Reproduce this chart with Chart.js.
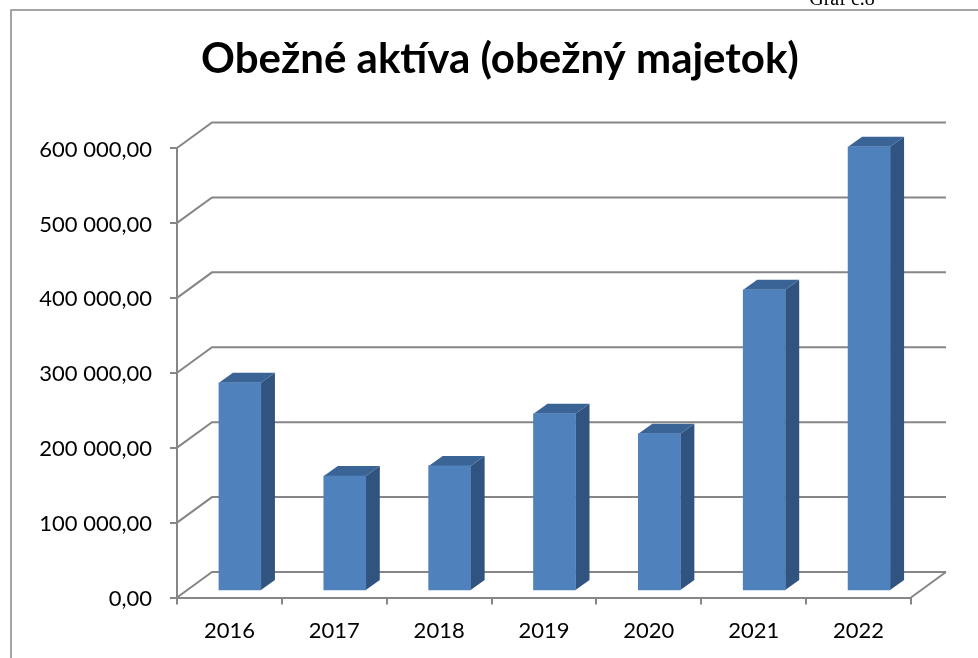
<!DOCTYPE html>
<html lang="sk">
<head>
<meta charset="utf-8">
<style>html,body{margin:0;padding:0;background:#fff;overflow:hidden}#w{width:978px;height:658px;position:relative}</style>
<script src="https://cdn.jsdelivr.net/npm/chart.js@4/dist/chart.umd.min.js"></script>
</head>
<body>
<div id="w"><canvas id="c" width="978" height="658"></canvas></div>
<script>
const categories = ['2016','2017','2018','2019','2020','2021','2022'];
const seriesValues = [278000,153500,167000,236500,210000,402000,593000];
const yTickLabels = ['0,00','100 000,00','200 000,00','300 000,00','400 000,00','500 000,00','600 000,00'];
const titleText = 'Obežné aktíva (obežný majetok)';
const captionText = 'Graf č.8';

const GRID = '#868686', FRONT = '#4F81BD', SIDE = '#31537F', TOP = '#3B6496';
const WALL = {dx:35, dy:-25.5}, BAR = {dx:10.5, dy:-6.5}, DEPTH = {dx:14, dy:-10};

const scene = {
  id:'scene',
  afterLayout(chart){ const t = chart.titleBlock; if(t){ t.left = 22; t.right = 978; } },
  beforeDraw(chart){
    const {ctx} = chart;
    ctx.save();
    ctx.strokeStyle = GRID; ctx.lineWidth = 1.5;
    ctx.beginPath(); ctx.moveTo(11,658); ctx.lineTo(11,10); ctx.lineTo(978,10); ctx.stroke();
    ctx.fillStyle = '#000'; ctx.font = '20px "Liberation Serif"'; ctx.textAlign='center'; ctx.textBaseline='alphabetic';
    ctx.fillText(captionText, 842, 5);
    ctx.restore();
  },
  beforeDatasetsDraw(chart){
    const {ctx, chartArea:a, scales:{y}} = chart;
    ctx.save();
    ctx.strokeStyle = GRID; ctx.lineWidth = 2;
    y.ticks.forEach(t=>{
      const p = y.getPixelForValue(t.value);
      ctx.beginPath(); ctx.moveTo(a.left,p); ctx.lineTo(a.left+WALL.dx,p+WALL.dy); ctx.lineTo(a.right+WALL.dx,p+WALL.dy); ctx.stroke();
    });
    ctx.beginPath(); ctx.moveTo(a.right,a.bottom); ctx.lineTo(a.right+WALL.dx,a.bottom+WALL.dy); ctx.stroke();
    ctx.restore();
  },
  beforeDatasetDraw(chart,args){
    const {ctx} = chart;
    ctx.save();
    ctx.translate(BAR.dx,BAR.dy);
    args.meta.data.forEach(b=>{
      const r = b.x+b.width/2, l = b.x-b.width/2;
      ctx.fillStyle = SIDE;
      ctx.beginPath(); ctx.moveTo(r,b.y); ctx.lineTo(r+DEPTH.dx,b.y+DEPTH.dy); ctx.lineTo(r+DEPTH.dx,b.base+DEPTH.dy); ctx.lineTo(r,b.base); ctx.closePath(); ctx.fill();
      ctx.fillStyle = TOP;
      ctx.beginPath(); ctx.moveTo(l,b.y); ctx.lineTo(l+DEPTH.dx,b.y+DEPTH.dy); ctx.lineTo(r+DEPTH.dx,b.y+DEPTH.dy); ctx.lineTo(r,b.y); ctx.closePath(); ctx.fill();
    });
  },
  afterDatasetDraw(chart){ chart.ctx.restore(); }
};

new Chart(document.getElementById('c'),{
  type:'bar',
  data:{labels:categories,datasets:[{data:seriesValues,backgroundColor:FRONT,barThickness:42,clip:false}]},
  plugins:[scene],
  options:{
    responsive:false,animation:false,
    layout:{padding:{left:0,right:67,top:0,bottom:0}},
    plugins:{
      legend:{display:false},tooltip:{enabled:false},
      title:{display:true,text:titleText,color:'#000',font:{family:'Lato',size:42,weight:'bold',lineHeight:1.2},padding:{top:34.6,bottom:63}}
    },
    scales:{
      x:{
        afterFit(s){s.height=60.5;},
        border:{color:GRID,width:2},
        grid:{color:GRID,lineWidth:2,drawOnChartArea:false,tickLength:7},
        ticks:{color:'#000',font:{family:'Lato',size:22},padding:13.5,maxRotation:0}
      },
      y:{
        min:0,max:600000,
        afterFit(s){s.width=177;},
        border:{color:GRID,width:2},
        grid:{color:GRID,lineWidth:2,drawOnChartArea:false,tickLength:7},
        ticks:{stepSize:100000,color:'#000',font:{family:'Lato',size:22},padding:18,labelOffset:1.5,callback:(v,i)=>yTickLabels[i]}
      }
    }
  }
});
</script>
</body>
</html>
